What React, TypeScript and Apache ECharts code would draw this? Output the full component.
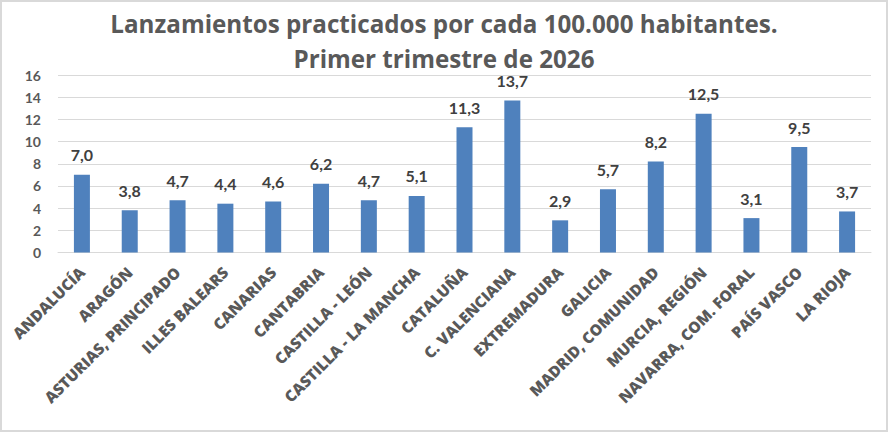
import React, { useEffect, useRef } from "react";
import * as echarts from "echarts";

const categories = [
  "ANDALUCÍA", "ARAGÓN", "ASTURIAS, PRINCIPADO", "ILLES BALEARS", "CANARIAS",
  "CANTABRIA", "CASTILLA - LEÓN", "CASTILLA - LA MANCHA", "CATALUÑA",
  "C. VALENCIANA", "EXTREMADURA", "GALICIA", "MADRID, COMUNIDAD",
  "MURCIA, REGIÓN", "NAVARRA, COM. FORAL", "PAÍS VASCO", "LA RIOJA",
];
const values = [7.0, 3.8, 4.7, 4.4, 4.6, 6.2, 4.7, 5.1, 11.3, 13.7, 2.9, 5.7, 8.2, 12.5, 3.1, 9.5, 3.7];
const titleLines = ["Lanzamientos practicados por cada 100.000 habitantes.", "Primer trimestre de 2026"];

export default function App() {
  const ref = useRef<HTMLDivElement>(null);
  useEffect(() => {
    document.body.style.margin = "0";
    const chart = echarts.init(ref.current!, null, { renderer: "svg" });
    chart.setOption({
      animation: false,
      backgroundColor: "#ffffff",
      title: {
        text: titleLines.join("\n"),
        left: "center",
        top: 1,
        textStyle: {
          fontFamily: "Open Sans",
          fontWeight: "bold",
          fontSize: 24.2,
          lineHeight: 35,
          color: "#595959",
        },
      },
      graphic: [
        {
          type: "rect",
          shape: { x: 1, y: 1, width: 886, height: 430 },
          style: { fill: "none", stroke: "#d9d9d9", lineWidth: 2 },
          silent: true,
        },
      ],
      grid: { left: 58, right: 17, top: 75, bottom: 179.5, containLabel: false },
      xAxis: {
        type: "category",
        data: categories,
        axisLine: { show: true, lineStyle: { color: "#d9d9d9", width: 1 } },
        axisTick: { show: false },
        axisLabel: {
          rotate: 45,
          interval: 0,
          fontFamily: "Open Sans",
          fontWeight: 800,
          fontSize: 15.5,
          color: "#595959",
          margin: 17,
        },
      },
      yAxis: {
        type: "value",
        min: 0,
        max: 16,
        interval: 2,
        axisLine: { show: false },
        axisTick: { show: false },
        splitLine: { lineStyle: { color: "#d9d9d9", width: 1 } },
        axisLabel: {
          fontFamily: "Lato",
          fontWeight: "bold",
          fontSize: 14,
          color: "#595959",
          margin: 17,
        },
      },
      series: [
        {
          type: "bar",
          data: values,
          barWidth: 16,
          itemStyle: { color: "#4f81bd" },
          label: {
            show: true,
            position: "top",
            distance: 12,
            fontFamily: "Lato",
            fontWeight: "bold",
            fontSize: 16,
            color: "#404040",
            formatter: (p: any) => p.value.toFixed(1).replace(".", ","),
          },
        },
      ],
    });
    return () => chart.dispose();
  }, []);
  return <div ref={ref} style={{ width: 888, height: 432 }} />;
}
